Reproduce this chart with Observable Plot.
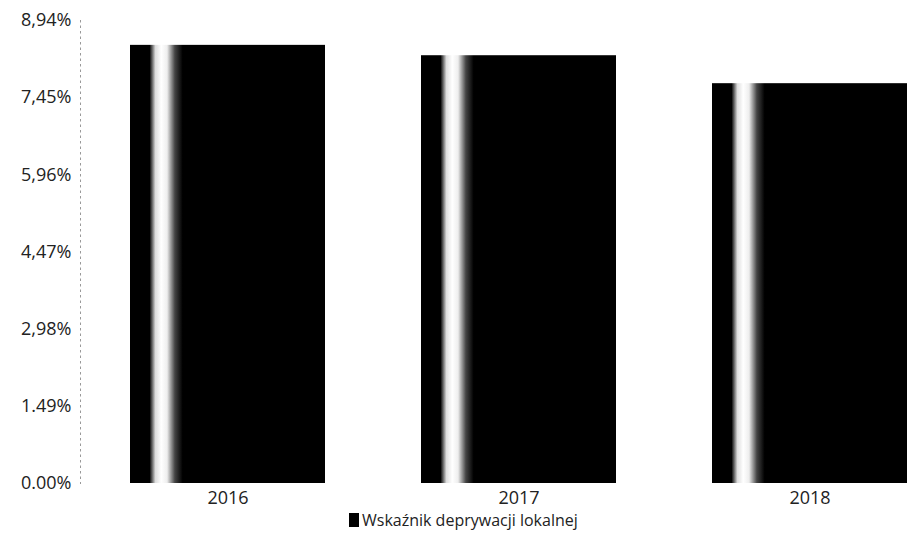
<!DOCTYPE html>
<html>
<head>
<meta charset="utf-8">
<script src="https://cdn.jsdelivr.net/npm/d3@7"></script>
<script src="https://cdn.jsdelivr.net/npm/@observablehq/plot@0.6"></script>
<style>
  html, body { margin: 0; padding: 0; background: #fff; }
  body { width: 907px; height: 553px; overflow: hidden; font-family: "Open Sans", sans-serif; }
  #chart svg { display: block; }
  #legend { display: flex; align-items: center; margin-left: 349px; margin-top: 0px; font-size: 16px; line-height: 16px; color: #222; }
  #legend .sw { width: 10px; height: 14px; background: #000; margin-right: 3px; }
</style>
</head>
<body>
<div id="chart"></div>
<div id="legend"><span class="sw"></span><span>Wskaźnik deprywacji lokalnej</span></div>
<script>
const years = ["2016", "2017", "2018"];
const values = [8.46, 8.26, 7.72];
const tickValues = [0, 1.49, 2.98, 4.47, 5.96, 7.45, 8.94];
const tickLabels = ["0.00%", "1.49%", "2,98%", "4,47%", "5,96%", "7,45%", "8,94%"];
const seriesName = "Wskaźnik deprywacji lokalnej";

const data = years.map((y, i) => ({year: y, value: values[i]}));

const plot = Plot.plot({
  width: 907,
  height: 512,
  marginLeft: 80,
  marginRight: 0,
  marginTop: 20,
  marginBottom: 29,
  style: {fontFamily: "Open Sans, sans-serif", fontSize: "18px", color: "#222"},
  x: {domain: years, paddingInner: 0.33, paddingOuter: 0.084, align: 1, label: null},
  y: {domain: [0, 8.94], label: null},
  marks: [
    Plot.frame({anchor: "left", stroke: "#999", strokeDasharray: "1.5,4"}),
    Plot.barY(data, {x: "year", y: "value", fill: "url(#streak)"}),
    Plot.axisY({ticks: tickValues, tickFormat: (d) => tickLabels[tickValues.indexOf(d)], tickSize: 0, tickPadding: 9, fontSize: 18, label: null}),
    Plot.axisX({tickSize: 0, tickPadding: 8, fontSize: 18, label: null})
  ]
});

const ns = "http://www.w3.org/2000/svg";
const defs = document.createElementNS(ns, "defs");
const grad = document.createElementNS(ns, "linearGradient");
grad.setAttribute("id", "streak");
grad.setAttribute("x1", "0"); grad.setAttribute("x2", "1");
grad.setAttribute("y1", "0"); grad.setAttribute("y2", "0");
[[0, "#000"], [0.1, "#000"], [0.13, "#ddd"], [0.16, "#fff"], [0.19, "#eee"], [0.23, "#444"], [0.27, "#000"], [1, "#000"]].forEach(([o, c]) => {
  const s = document.createElementNS(ns, "stop");
  s.setAttribute("offset", o);
  s.setAttribute("stop-color", c);
  grad.appendChild(s);
});
defs.appendChild(grad);
plot.insertBefore(defs, plot.firstChild);
document.getElementById("chart").appendChild(plot);
</script>
</body>
</html>
